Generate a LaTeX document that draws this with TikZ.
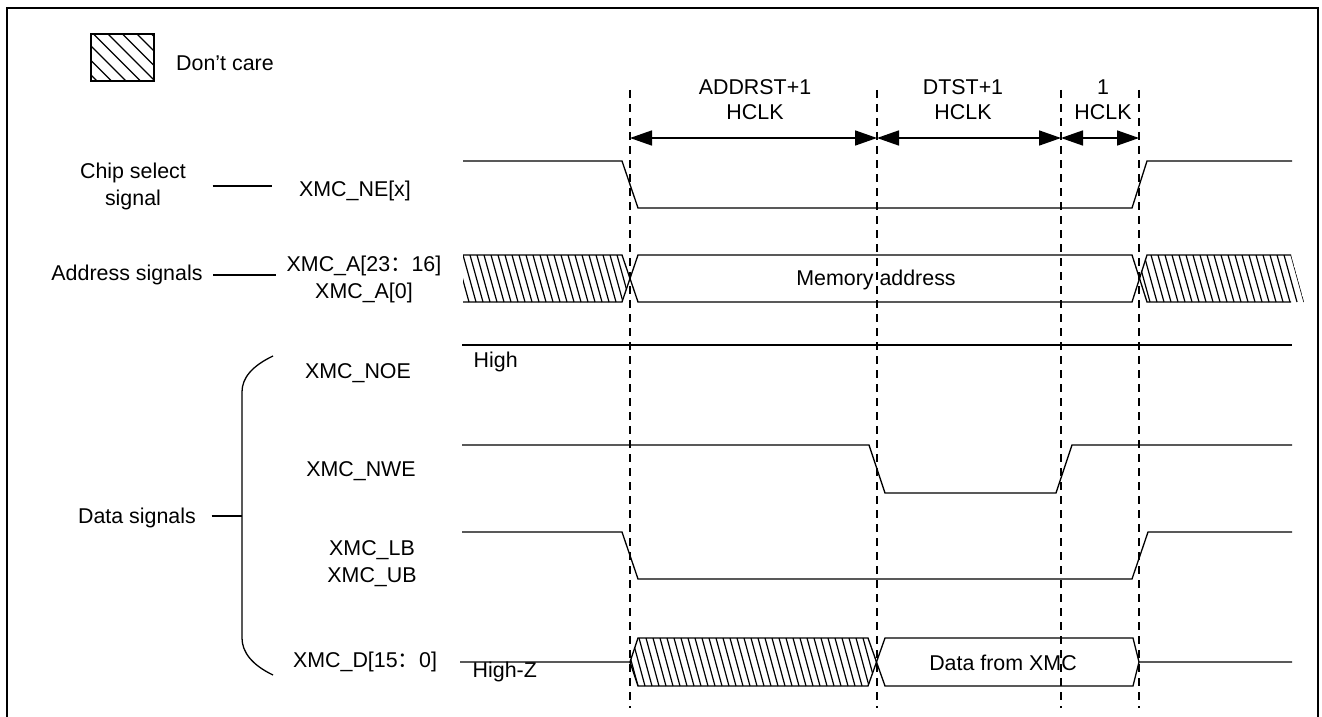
\documentclass[tikz,border=0pt]{standalone}
\usepackage{fontspec}
\setmainfont{Liberation Sans}
\newfontfamily\cjkfont{Noto Sans CJK SC}
\usetikzlibrary{arrows.meta}

\begin{document}
\begin{tikzpicture}[x=0.5pt,y=-0.5pt,line width=0.65pt,
  every node/.style={inner sep=0pt,align=center,font=\fontsize{10.7}{13.5}\selectfont},
  guide/.style={dash pattern=on 4pt off 3pt,line width=0.75pt},
  span/.style={{Triangle[length=11pt,width=7.5pt]}-{Triangle[length=11pt,width=7.5pt]},line width=0.8pt},
  hatch/.style={line width=0.6pt}]
\useasboundingbox (0,0) rectangle (1322,717);
\draw[line width=1pt] (7,717) -- (7,8) -- (1318,8) -- (1318,717);
% legend
\draw (91,34) rectangle (154,81);
\begin{scope}
\clip (91,34) rectangle (154,81);
\foreach \x in {50,64.5,...,160} \draw[hatch] (\x,34) -- ++(47,47);
\end{scope}
\node (dc) at (225,63) {Don’t care};
% time marks
\foreach \n/\x in {1/630,2/877,3/1061,4/1139}{
  \coordinate (t\n) at (\x,138);
  \draw[guide] (\x,90) -- (\x,708);}
\draw[span] (t1) -- (t2);\draw[span] (t2) -- (t3);\draw[span] (t3) -- (t4);
\node (p1) at (755,100) {ADDRST+1\\[-1pt]HCLK};
\node (p2) at (963,100) {DTST+1\\[-1pt]HCLK};
\node (p3) at (1103,100) {1\\[-1pt]HCLK};
% signal names
\node (cs) at (133,186) {Chip select\\signal};
\node (ne) at (355,191) {XMC\_NE[x]};
\node (as) at (127,275) {Address signals};
\node (a) at (364,279.5) {XMC\_A[23{\cjkfont ：}16]\\XMC\_A[0]};
\node (ds) at (137,518) {Data signals};
\node (noe) at (358,373) {XMC\_NOE};
\node (nwe) at (361,471) {XMC\_NWE};
\node (lb) at (372,563.5) {XMC\_LB\\XMC\_UB};
\node (d) at (365,662) {XMC\_D[15{\cjkfont ：}0]};
\draw ([xshift=13pt]cs.east) -- ([xshift=-13pt]cs.east -| ne.west);
\draw ([xshift=5pt]as.east) -- ([xshift=-5pt]as.east -| a.west);
\coordinate (br) at (242,516);
\draw ([xshift=7.5pt]ds.east |- br) -- (br);
\draw (273,356) .. controls (252,366) and (242,378) .. (242,392) -- (242,638)
  .. controls (242,652) and (252,665) .. (273,675);
% waveforms
\draw (463,161) -- (622,161) -- (638,208) -- (1132,208) -- (1147,161) -- (1292,161);
\begin{scope}
\clip (463,255) -- (622,255) -- (630,278.5) -- (622,302) -- (463,302) -- cycle;
\foreach \x in {449,456,...,630} \draw[hatch] (\x,255) -- ++(13,47);
\end{scope}
\begin{scope}
\clip (1139,278.5) -- (1147,255) -- (1291,255) -- (1304,302) -- (1147,302) -- cycle;
\foreach \x in {1130,1137,...,1292} \draw[hatch] (\x,255) -- ++(13,47);
\end{scope}
\draw (463,255) -- (622,255) -- (638,302) -- (1132,302) -- (1147,255) -- (1291,255);
\draw (463,302) -- (622,302) -- (638,255) -- (1132,255) -- (1147,302) -- (1291,302);
\node (ma) at (876,280) {Memory address};
\draw (462,345) -- (1292,345);
\node (hi) [anchor=west] at (473,362) {High};
\draw (462,445) -- (869,445) -- (885,493) -- (1056,493) -- (1072,445) -- (1292,445);
\draw (462,532) -- (622,532) -- (638,579) -- (1132,579) -- (1148,532) -- (1292,532);
\begin{scope}
\clip (630,662) -- (638,638) -- (868,638) -- (877,662) -- (868,686) -- (638,686) -- cycle;
\foreach \x in {618,625,...,877} \draw[hatch] (\x,638) -- ++(13,48);
\end{scope}
\draw (460,662) -- (630,662) -- (638,638) -- (868,638) -- (885,686) -- (1133,686) -- (1139,662) -- (1292,662);
\draw (630,662) -- (638,686) -- (868,686) -- (885,638) -- (1133,638) -- (1139,662);
\node (hz) [anchor=west] at (472,672) {High-Z};
\node (dx) at (1003,663) {Data from XMC};
\end{tikzpicture}
\end{document}
